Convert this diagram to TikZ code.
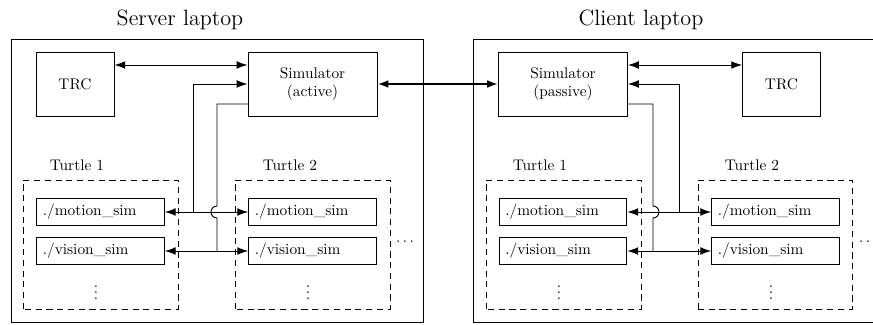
\documentclass[tikz,border=0pt]{standalone}
\usetikzlibrary{arrows.meta}

\tikzset{
    box/.style={draw, minimum height=41.6pt, align=center},
    prog/.style={draw, minimum height=17pt, text width=75pt, inner xsep=4pt, align=left},
    turtle/.style={draw, dash pattern=on 4pt off 3pt},
    title/.style={font=\fontsize{14.4}{17}\selectfont},
    dots/.style={inner sep=0pt}
}

\begin{document}
\begin{tikzpicture}[x=0.65pt, y=0.65pt, line width=0.6pt, >={Latex[length=7pt,width=5pt]}]
                                \useasboundingbox (0,0) rectangle (873,324);
                                % server laptop
                                \node[title] (srv) at (180,304) {Server laptop};
                                \draw (11,2) rectangle (423,285);
                                \node[box, minimum width=50.7pt] (trc1) at (75,240) {TRC};
                                \node[box, minimum width=83.9pt] (sim1) at (312.5,240) {Simulator\\(active)};
                                \draw[turtle] (23,15) rectangle (178,144);
                                \draw[turtle] (235,15) rectangle (390,144);
                                \node (t11) at (77,159) {Turtle 1};
                                \node (t12) at (290,159) {Turtle 2};
                                \node[prog] (mot11) at (100.5,112) {./motion\_sim};
                                \node[prog] (vis11) at (100.5,73) {./vision\_sim};
                                \node[prog] (mot12) at (312.5,112) {./motion\_sim};
                                \node[prog] (vis12) at (312.5,73) {./vision\_sim};
                                \node[dots] (d11) at (96,36) {$\vdots$};
                                \node[dots] (d12) at (308,36) {$\vdots$};
                                \node[dots] (more1) at (405,82) {$\cdots$};
                                \draw[<->] (trc1.east |- 0,259) -- (sim1.west |- 0,259);
                                \coordinate (m1) at (193,112);
                                \coordinate (v1) at (217,73);
                                \draw[->] (m1) |- (sim1.west);
                                \draw[->] (m1) -- (mot11.east);
                                \draw[->] (m1) -- (mot12.west);
                                \draw (sim1.west |- 0,220) -| (217,118) arc (90:270:6) -- (v1);
                                \draw[->] (v1) -- (vis11.east);
                                \draw[->] (v1) -- (vis12.west);
                                % client laptop
                                \node[title] (cli) at (641,304) {Client laptop};
                                \draw (880,285) -- (473,285) -- (473,2) -- (880,2);
                                \node[box, minimum width=83.9pt] (sim2) at (563,240) {Simulator\\(passive)};
                                \node[box, minimum width=50.7pt] (trc2) at (781.5,240) {TRC};
                                \draw[turtle] (486,15) rectangle (641,144);
                                \draw[turtle] (698,15) rectangle (852,144);
                                \node (t21) at (540,159) {Turtle 1};
                                \node (t22) at (752,159) {Turtle 2};
                                \node[prog] (mot21) at (563,112) {./motion\_sim};
                                \node[prog] (vis21) at (563,73) {./vision\_sim};
                                \node[prog] (mot22) at (775.5,112) {./motion\_sim};
                                \node[prog] (vis22) at (775.5,73) {./vision\_sim};
                                \node[dots] (d21) at (559,36) {$\vdots$};
                                \node[dots] (d22) at (771,36) {$\vdots$};
                                \node[dots] (more2) at (868,82) {$\cdots$};
                                \draw[<->] (sim2.east |- 0,259) -- (trc2.west |- 0,259);
                                \coordinate (m2) at (679,112);
                                \coordinate (v2) at (653,73);
                                \draw[->] (m2) |- (sim2.east);
                                \draw[->] (m2) -- (mot21.east);
                                \draw[->] (m2) -- (mot22.west);
                                \draw (sim2.east |- 0,220) -| (653,118) arc (90:-90:6) -- (v2);
                                \draw[->] (v2) -- (vis21.east);
                                \draw[->] (v2) -- (vis22.west);
                                % link between the simulators
                                \draw[<->, line width=1.2pt] (sim1.east) -- (sim2.west);
                            \end{tikzpicture}
\end{document}
